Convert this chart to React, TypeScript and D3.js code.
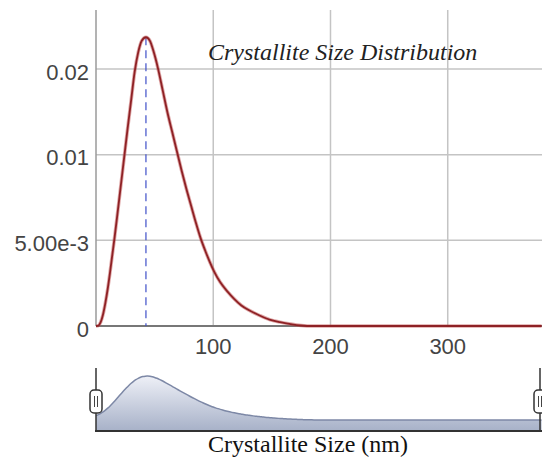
import { useMemo } from 'react'
import * as d3 from 'd3'

// crystallite size (nm) vs. frequency
const sizes = [
  0, 2, 4, 6, 8, 10, 12, 14, 16, 18, 21, 24, 27, 30, 33, 36, 39, 42.6, 46, 49, 53, 57, 61, 65, 69, 73, 77,
  81, 85, 89, 93, 97, 101, 106, 112, 118, 124, 131, 140, 148, 157, 166, 175, 185, 250, 320, 380,
]
const freq = [
  0, 0.00003, 0.0003, 0.0009, 0.0018, 0.0029, 0.0042, 0.0056, 0.007, 0.0085, 0.0108, 0.0131, 0.0154,
  0.0176, 0.0198, 0.0213, 0.0222, 0.02248, 0.0222, 0.0214, 0.02, 0.0183, 0.0166, 0.0151, 0.0136, 0.0121,
  0.0107, 0.0094, 0.0081, 0.0069, 0.0059, 0.005, 0.0042, 0.0034, 0.0027, 0.0021, 0.0016, 0.0012, 0.0008,
  0.0005, 0.0003, 0.00015, 0.00004, 0, 0, 0, 0,
]
const peakSize = 42.6
const peakFreq = 0.02248

const xTicks = [100, 200, 300]
const yTickValues = [0, 0.00667, 0.01333, 0.02]
const yTickLabels = ['0', '5.00e-3', '0.01', '0.02']

const title = 'Crystallite Size Distribution'
const xTitle = 'Crystallite Size (nm)'

const W = 542
const H = 458
const left = 96
const right = 542
const top = 10
const bottom = 326
const miniTop = 376
const miniZero = 420
const miniBase = 431

type Pt = { s: number; v: number }

export default function App() {
  const points: Pt[] = sizes.map((s, i) => ({ s, v: freq[i] }))

  const x = useMemo(() => d3.scaleLinear().domain([0, 380.4]).range([left, right]), [])
  const y = useMemo(() => d3.scaleLinear().domain([0, 0.0246]).range([bottom, top]), [])

  // the range selector draws a softened overview of the same series
  const miniPoints = useMemo(() => {
    const interp = d3.scaleLinear<number>().domain(sizes).range(freq).clamp(true)
    const grid = d3.range(0, 382, 2)
    const raw = grid.map((s) => interp(s))
    const sigma = 7
    return grid.map((s) => {
      let num = 0
      let den = 0
      grid.forEach((t, j) => {
        const w = Math.exp(-((t - s) ** 2) / (2 * sigma * sigma))
        num += w * raw[j]
        den += w
      })
      return { s, v: num / den }
    })
  }, [])
  const miniMax = d3.max(miniPoints, (d) => d.v) ?? 1
  const yMini = d3.scalePow().exponent(0.8).domain([0, miniMax]).range([miniZero, miniTop])

  const linePath = d3
    .line<Pt>()
    .x((d) => x(d.s))
    .y((d) => y(d.v))
    .curve(d3.curveMonotoneX)(points)

  const miniArea = d3
    .area<Pt>()
    .x((d) => x(d.s))
    .y0(miniBase)
    .y1((d) => yMini(d.v))
    .curve(d3.curveBasis)(miniPoints)

  const miniLine = d3
    .line<Pt>()
    .x((d) => x(d.s))
    .y((d) => yMini(d.v))
    .curve(d3.curveBasis)(miniPoints)

  const axisFont = '"Liberation Sans", Arial, sans-serif'
  const serif = '"Liberation Serif", "Times New Roman", serif'

  const handle = (hx: number) => (
    <g>
      <line x1={hx} x2={hx} y1={368} y2={miniBase} stroke="#333" strokeWidth={1.5} />
      <rect x={hx - 6} y={390} width={12} height={23} rx={4} fill="#fff" stroke="#333" strokeWidth={1.5} />
      <line x1={hx - 1.5} x2={hx - 1.5} y1={396} y2={407} stroke="#444" strokeWidth={1} />
      <line x1={hx + 1.5} x2={hx + 1.5} y1={396} y2={407} stroke="#444" strokeWidth={1} />
    </g>
  )

  return (
    <svg width={W} height={H} style={{ position: 'absolute', left: 0, top: 0, background: '#fff' }}>
      <defs>
        <clipPath id="plot-clip">
          <rect x={left} y={top} width={right - left} height={bottom - top + 2} />
        </clipPath>
        <linearGradient id="mini-fill" x1="0" y1="0" x2="0" y2="1">
          <stop offset="0%" stopColor="#eef0f7" />
          <stop offset="100%" stopColor="#a7b1c8" />
        </linearGradient>
      </defs>

      {/* grid */}
      {yTickValues.slice(1).map((v) => (
        <line key={v} x1={left} x2={right} y1={y(v)} y2={y(v)} stroke="#c4c4c4" strokeWidth={1.5} />
      ))}
      {xTicks.map((t) => (
        <line key={t} x1={x(t)} x2={x(t)} y1={top} y2={bottom} stroke="#c4c4c4" strokeWidth={1.5} />
      ))}

      {/* axes */}
      <line x1={left} x2={left} y1={top} y2={bottom} stroke="#9a9a9a" strokeWidth={1.5} />
      <line x1={left} x2={right} y1={bottom} y2={bottom} stroke="#777" strokeWidth={2} />

      {yTickValues.map((v, i) => (
        <text
          key={v}
          x={89}
          y={y(v) + 3}
          textAnchor="end"
          dominantBaseline="central"
          fontFamily={axisFont}
          fontSize={22}
          fill="#444"
        >
          {yTickLabels[i]}
        </text>
      ))}
      {xTicks.map((t) => (
        <text key={t} x={x(t)} y={354} textAnchor="middle" fontFamily={axisFont} fontSize={22} fill="#444">
          {t}
        </text>
      ))}

      {/* peak marker */}
      <line
        x1={x(peakSize)}
        x2={x(peakSize)}
        y1={y(peakFreq)}
        y2={bottom}
        stroke="#3f4fc8"
        strokeWidth={1.2}
        strokeDasharray="8,5"
      />

      <g clipPath="url(#plot-clip)">
        <path d={linePath ?? ''} fill="none" stroke="#c05050" strokeOpacity={0.5} strokeWidth={3.5} />
        <path d={linePath ?? ''} fill="none" stroke="#8e2125" strokeWidth={1.8} />
      </g>

      <text x={208} y={60} fontFamily={serif} fontStyle="italic" fontSize={24} fill="#222">
        {title}
      </text>

      {/* range selector */}
      <path d={miniArea ?? ''} fill="url(#mini-fill)" />
      <path d={miniLine ?? ''} fill="none" stroke="#7d88a6" strokeWidth={1.5} />
      <line x1={left - 1} x2={right} y1={miniBase} y2={miniBase} stroke="#333" strokeWidth={2} />
      {handle(left)}
      {handle(540)}

      <text x={208} y={452} fontFamily={serif} fontSize={24} fill="#111">
        {xTitle}
      </text>
    </svg>
  )
}
